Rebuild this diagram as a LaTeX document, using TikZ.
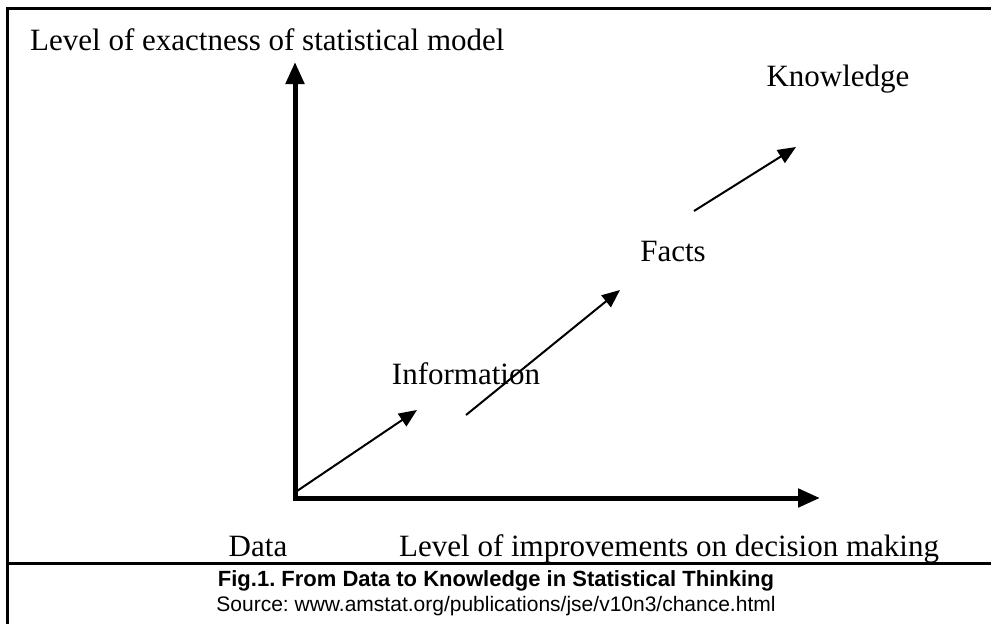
\documentclass[tikz,border=0pt]{standalone}
\usepackage{fontspec}
\setmainfont{Liberation Serif}
\setsansfont{Liberation Sans}
\usetikzlibrary{arrows.meta,calc}
\frenchspacing

\begin{document}
\begin{tikzpicture}[x=1pt, y=-1pt]
	  \tikzstyle{every node} = [inner sep=0pt, font=\fontsize{31}{36}\selectfont]
	  \tikzstyle{axis} = [line width=5pt, -{Triangle[length=22pt, width=18pt]}]
	  \tikzstyle{step arrow} = [line width=2pt, -{Triangle[length=18pt, width=15pt]}]
	  \clip (0,0) rectangle (991,624);
	  % frame
	  \draw [line width=3pt] (7,640) -- (7,8) -- (1000,8);
	  \draw [line width=3pt] (7,563) -- (1000,563);
	  % axes
	  \coordinate (o) at (295,498);
	  \coordinate (ytip) at (295,62);
	  \coordinate (xtip) at (820,498);
	  \draw [axis] ($(o)+(0,2.5)$) -- (ytip);
	  \draw [axis] (o) -- (xtip);
	  % labels
	  \node [anchor=base west] (ylab) at (30,50) {Level of exactness of statistical model};
	  \node [anchor=base west] (xlab) at (399,556) {Level of improvements on decision making};
	  \node [anchor=base] (data) at (258,556) {Data};
	  \node [anchor=base] (info) at (466,384) {Information};
	  \node [anchor=base] (facts) at (673,261) {Facts};
	  \node [anchor=base] (know) at (838,86) {Knowledge};
	  % steps
	  \coordinate (s1) at (297,491);
	  \coordinate (e1) at (417,410);
	  \coordinate (s2) at (466,415);
	  \coordinate (e2) at (620,290);
	  \coordinate (s3) at (694,211);
	  \coordinate (e3) at (796,147);
	  \draw [step arrow] (s1) -- (e1);
	  \draw [step arrow] (s2) -- (e2);
	  \draw [step arrow] (s3) -- (e3);
	  % caption
	  \node [anchor=base, font=\sffamily\bfseries\fontsize{22}{26}\selectfont] (title) at (496,586)
	    {Fig.1. From Data to Knowledge in Statistical Thinking};
	  \node [anchor=base, font=\sffamily\fontsize{21}{25}\selectfont] (source) at (496,611)
	    {Source: www.amstat.org/publications/jse/v10n3/chance.html};
	\end{tikzpicture}
\end{document}
